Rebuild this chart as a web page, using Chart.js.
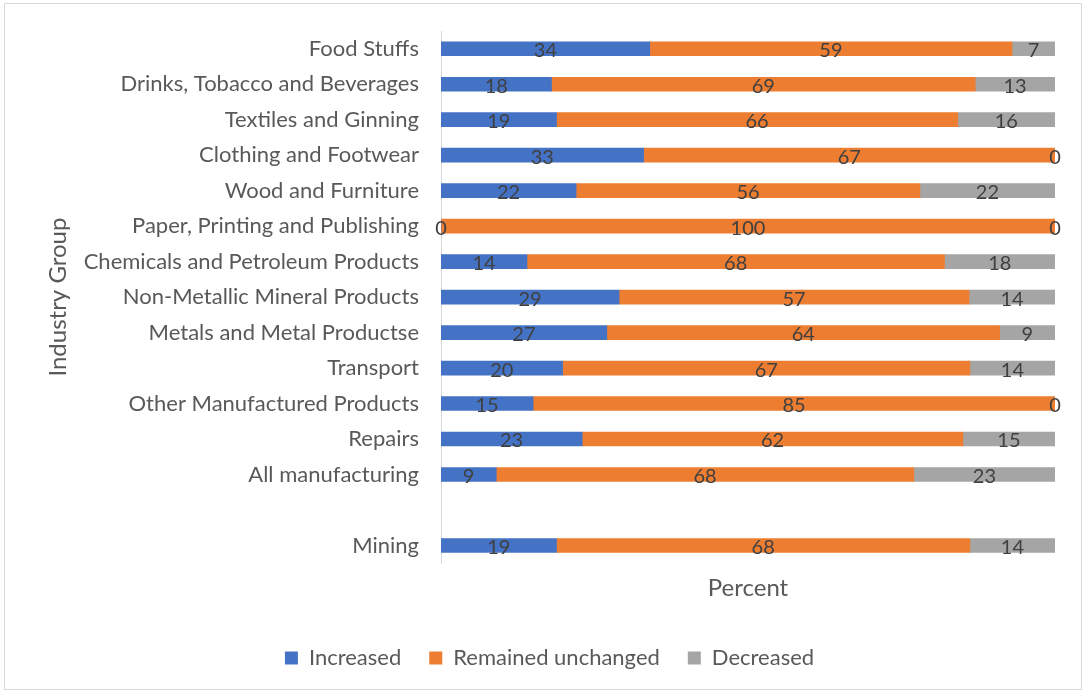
<!DOCTYPE html>
<html>
<head>
<meta charset="utf-8">
<script src="https://cdn.jsdelivr.net/npm/chart.js@4.4.1/dist/chart.umd.min.js"></script>
<style>
    html, body { margin: 0; padding: 0; background: #fff; }
    .frame {
        position: absolute;
        left: 4px; top: 3px;
        width: 1078px; height: 687px;
        border: 1px solid #d9d9d9;
        box-sizing: border-box;
    }
    #wrap { position: absolute; left: 0; top: 0; width: 1087px; height: 695px; }
</style>
</head>
<body>
<div class="frame"></div>
<div id="wrap"><canvas id="changeChart"></canvas></div>
<script>
(function () {
    var groups = [
        'Food Stuffs',
        'Drinks, Tobacco and Beverages',
        'Textiles and Ginning',
        'Clothing and Footwear',
        'Wood and Furniture',
        'Paper, Printing and Publishing',
        'Chemicals and Petroleum Products',
        'Non-Metallic Mineral Products',
        'Metals and Metal Productse',
        'Transport',
        'Other Manufactured Products',
        'Repairs',
        'All manufacturing',
        '',
        'Mining'
    ];
    var increased = [34, 18, 19, 33, 22, 0, 14, 29, 27, 20, 15, 23, 9, null, 19];
    var unchanged = [59, 69, 66, 67, 56, 100, 68, 57, 64, 67, 85, 62, 68, null, 68];
    var decreased = [7, 13, 16, 0, 22, 0, 18, 14, 9, 14, 0, 15, 23, null, 14];

    var textColor = '#595959';
    var fontFamily = 'Lato, "Open Sans", sans-serif';

    // each row is stretched to a full 100% bar, like a percent-stacked chart
    function share(values) {
        return values.map(function (v, i) {
            if (v === null) {
                return null;
            }
            var total = increased[i] + unchanged[i] + decreased[i];
            return v / total * 100;
        });
    }

    var rawByDataset = [increased, unchanged, decreased];

    var valueLabels = {
        id: 'valueLabels',
        afterDatasetsDraw: function (chart) {
            var ctx = chart.ctx;
            ctx.save();
            ctx.font = '20px ' + fontFamily;
            ctx.fillStyle = '#404040';
            ctx.textAlign = 'center';
            ctx.textBaseline = 'middle';
            chart.data.datasets.forEach(function (ds, di) {
                var meta = chart.getDatasetMeta(di);
                meta.data.forEach(function (bar, i) {
                    var raw = rawByDataset[di][i];
                    if (raw === null) {
                        return;
                    }
                    var cx = (bar.x + bar.base) / 2;
                    ctx.fillText(String(raw), cx, bar.y + 2);
                });
            });
            ctx.restore();
        }
    };

    new Chart(document.getElementById('changeChart'), {
        type: 'bar',
        data: {
            labels: groups,
            datasets: [
                { label: 'Increased', data: share(increased), backgroundColor: '#4472C4' },
                { label: 'Remained unchanged', data: share(unchanged), backgroundColor: '#ED7D31' },
                { label: 'Decreased', data: share(decreased), backgroundColor: '#A5A5A5' }
            ]
        },
        options: {
            indexAxis: 'y',
            responsive: true,
            maintainAspectRatio: false,
            animation: false,
            datasets: {
                bar: {
                    barThickness: 14,
                    borderWidth: 0
                }
            },
            layout: {
                padding: { left: 44, right: 32, top: 31, bottom: 16 }
            },
            scales: {
                x: {
                    stacked: true,
                    min: 0,
                    max: 100,
                    grid: { display: false },
                    border: { display: false },
                    ticks: { display: false },
                    title: {
                        display: true,
                        text: 'Percent',
                        color: textColor,
                        font: { family: fontFamily, size: 24 },
                        padding: { top: 3, bottom: 16 }
                    }
                },
                y: {
                    stacked: true,
                    afterFit: function (scale) {
                        scale.width = 397;
                        scale.paddingTop = 0;
                        scale.paddingBottom = 0;
                    },
                    grid: { display: false, drawTicks: false },
                    border: { display: true, color: '#d9d9d9', width: 1 },
                    ticks: {
                        color: textColor,
                        padding: 22,
                        autoSkip: false,
                        font: { family: fontFamily, size: 22 }
                    },
                    title: {
                        display: true,
                        text: 'Industry Group',
                        color: textColor,
                        font: { family: fontFamily, size: 24 },
                        padding: { top: 0, bottom: 0 }
                    }
                }
            },
            plugins: {
                legend: {
                    position: 'bottom',
                    labels: {
                        color: textColor,
                        boxWidth: 13,
                        boxHeight: 13,
                        padding: 28,
                        font: { family: fontFamily, size: 22 }
                    }
                },
                tooltip: { enabled: false }
            }
        },
        plugins: [valueLabels]
    });
})();
</script>
</body>
</html>
